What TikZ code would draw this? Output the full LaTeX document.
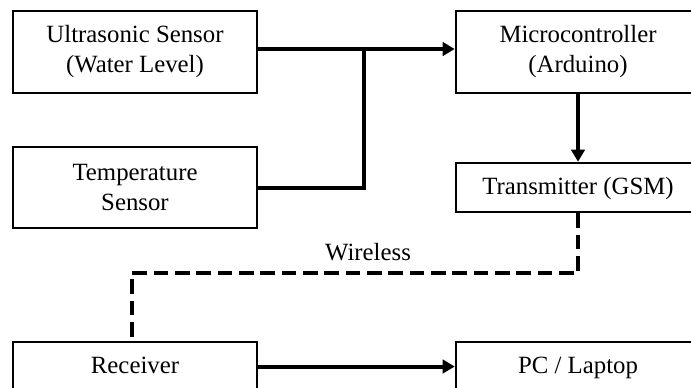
\documentclass[tikz,border=0pt]{standalone}
\usepackage{fontspec}
\setmainfont{Liberation Serif}
\usetikzlibrary{arrows.meta}
\begin{document}
\begin{tikzpicture}[x=0.75pt,y=-0.75pt,
  box/.style={draw=black, line width=1.9pt, fill=white, minimum width=183pt, align=center,
    font=\fontsize{18.6}{22.5}\selectfont, inner sep=0pt},
  onebox/.style={box, text height=13pt, text depth=3pt},
  conn/.style={line width=3pt, -{Triangle[length=9pt,width=10pt]}},
  plain/.style={line width=3pt},
  wire/.style={line width=3pt, dash pattern=on 11pt off 5pt}]
\useasboundingbox (0,0) rectangle (691,387);
\fill[white] (0,0) rectangle (691,387);
\node[box, minimum height=61.5pt] (us) at (135,52) {Ultrasonic Sensor\\(Water Level)};
\node[box, minimum height=60.75pt] (ts) at (135,187.5) {Temperature\\Sensor};
\node[box, minimum height=61.5pt] (mc) at (578,52) {Microcontroller\\(Arduino)};
\node[onebox, minimum height=36.75pt] (tx) at (578,187.5) {Transmitter (GSM)};
\node[onebox, minimum height=37pt] (rx) at (135,366.5) {Receiver};
\node[onebox, minimum height=37pt] (pc) at (578,366.5) {PC / Laptop};
\node[anchor=base, font=\fontsize{18.6}{22.5}\selectfont, inner sep=0pt] (wl) at (368,260) {Wireless};
\coordinate (j) at (364,49);
\coordinate (w1) at (578,273);
\coordinate (w2) at (132,273);
\draw[conn] ([yshift=2.25pt]us.east) -- ([yshift=2.25pt]mc.west);
\draw[plain] (ts.east) -- (j |- ts.east) -- (j);
\draw[conn] (mc.south) -- (tx.north);
\draw[conn] (rx.east) -- (pc.west);
\draw[wire] (tx.south) -- (w1) -- (w2) -- (w2 |- rx.north);
\end{tikzpicture}
\end{document}
